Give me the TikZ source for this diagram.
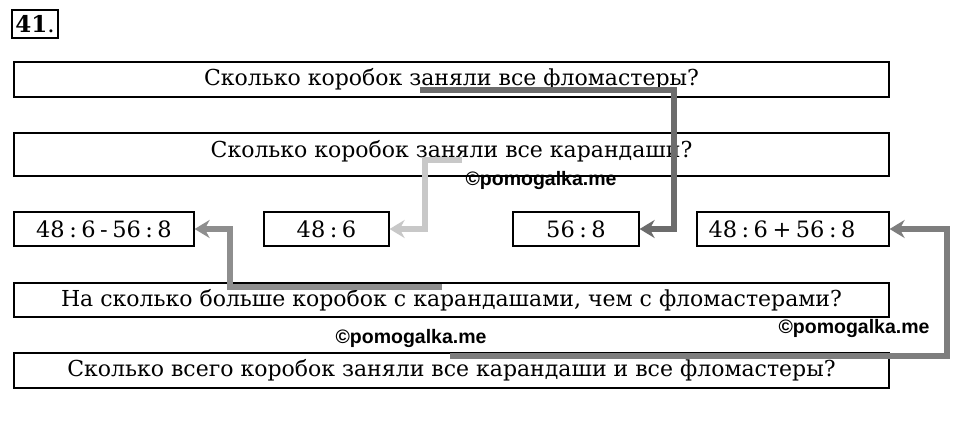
\documentclass[tikz,border=0pt]{standalone}
\usepackage{fontspec}
\setmainfont{DejaVu Serif}
\newfontfamily\wmfont{Liberation Sans}
\usetikzlibrary{arrows.meta,positioning}

\definecolor{darkarrow}{HTML}{6C6C6C}
\definecolor{lightarrow}{HTML}{C8C8C8}
\definecolor{midarrow}{HTML}{8E8E8E}
\definecolor{sumarrow}{HTML}{7E7E7E}

\newcommand{\gap}{\hspace{0.2em}}

\tikzset{
  qbox/.style={draw, line width=1.2pt, minimum width=875pt, minimum height=35pt,
    inner sep=0pt, font=\fontsize{22}{26}\selectfont},
  ebox/.style={draw, line width=1.2pt, minimum height=34pt, inner sep=0pt,
    font=\fontsize{22.5}{26}\selectfont},
  link/.style={line width=5.5pt, line join=miter, -{Stealth[length=15pt,width=18pt]}},
  stamp/.style={inner sep=0pt, font=\wmfont\fontsize{19.5}{22}\bfseries\selectfont}
}

\begin{document}
\begin{tikzpicture}[x=1pt, y=-1pt]
\useasboundingbox (0,0) rectangle (960,428);
% Number of the task
\node [draw, line width=1.2pt, minimum width=46pt, minimum height=28pt, inner sep=0pt,
	font=\fontsize{23}{26}\selectfont] (num) at (35,24) {\textbf{41}.};
% Questions
\node [qbox] (q1) at (451.5,79.5) {Сколько коробок заняли все фломастеры?};
\node [qbox, minimum height=43pt, text depth=11pt] (q2) at (451.5,154.5) {Сколько коробок заняли все карандаши?};
\node [qbox, minimum height=34pt] (q3) at (451.5,300) {На сколько больше коробок с карандашами, чем с фломастерами?};
\node [qbox] (q4) at (451.5,370.5) {Сколько всего коробок заняли все карандаши и все фломастеры?};
% Expressions
\node [ebox, minimum width=180pt] (diff) at (104,229) {48\gap:\gap6\gap-\gap56\gap:\gap8};
\node [ebox, minimum width=125pt] (pen) at (326.5,229) {48\gap:\gap6};
\node [ebox, minimum width=126pt] (mark) at (576,229) {56\gap:\gap8};
\node [ebox, minimum width=192pt] (total) at (793,229) {48\gap:\gap6\gap+\gap56\gap:\gap8\kern22pt};
% Arrow from the felt pens to 56 : 8
\coordinate (s1) at (420,90);
\coordinate (k1) at (674,90);
\draw [link, color=darkarrow] (s1) -- (k1) |- (mark.east);
% Arrow from the pencils to 48 : 6
\coordinate (s2) at (462,160);
\coordinate (k2) at (425,160);
\draw [link, color=lightarrow] (s2) -- (k2) |- (pen.east);
% Arrow from the difference question
\coordinate (s3) at (442,287);
\coordinate (k3) at (230,287);
\draw [link, color=midarrow] (s3) -- (k3) |- (diff.east);
% Arrow from the sum question
\coordinate (s4) at (450,356);
\coordinate (k4) at (947,356);
\draw [link, color=sumarrow] (s4) -- (k4) |- (total.east);
% Watermarks
\node [stamp] (w1) at (541,180) {©pomogalka.me};
\node [stamp] (w2) at (411,338) {©pomogalka.me};
\node [stamp] (w3) at (854,328) {©pomogalka.me};
\end{tikzpicture}
\end{document}
